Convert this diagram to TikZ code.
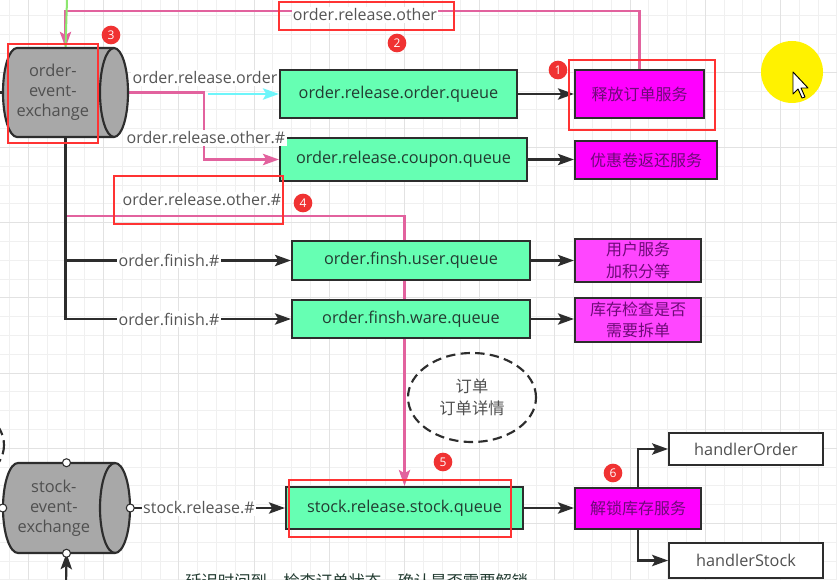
\documentclass[tikz,border=0pt]{standalone}
\usepackage{fontspec}
\setmainfont{Open Sans}
\newfontfamily\cjk{Noto Sans CJK SC}
\usetikzlibrary{shapes.geometric,arrows.meta}
\definecolor{linegray}{RGB}{45,45,45}
\definecolor{queuegreen}{RGB}{102,255,179}
\definecolor{queuetext}{RGB}{35,60,50}
\definecolor{servmagenta}{RGB}{255,0,255}
\definecolor{servlight}{RGB}{255,70,255}
\definecolor{servtext}{RGB}{110,10,120}
\definecolor{exgray}{RGB}{168,168,168}
\definecolor{extext}{RGB}{80,80,80}
\definecolor{labelgray}{RGB}{85,85,85}
\definecolor{pinkline}{RGB}{226,98,158}
\definecolor{cyanline}{RGB}{110,245,250}
\definecolor{greenline}{RGB}{140,230,110}
\definecolor{hilite}{RGB}{255,51,51}
\definecolor{badgered}{RGB}{240,50,50}
\definecolor{gridminor}{RGB}{240,240,240}
\definecolor{gridmajor}{RGB}{226,226,226}
\pgfdeclarelayer{gridlayer}
\pgfdeclarelayer{edges}
\pgfsetlayers{gridlayer,edges,main}
\begin{document}
\begin{tikzpicture}[x=0.75pt,y=0.75pt,yscale=-1,xscale=1,
	queue/.style={draw=linegray,line width=1.6pt,fill=queuegreen,text=queuetext,inner sep=0pt,font=\fontsize{12.2}{14}\selectfont},
	service/.style={draw=linegray,line width=1.6pt,fill=servmagenta,text=servtext,inner sep=0pt,align=center,font=\cjk\fontsize{12}{16}\selectfont},
	handler/.style={draw=linegray,line width=1.4pt,fill=white,text=extext,inner sep=0pt,minimum width=115.5pt,font=\fontsize{12.2}{14}\selectfont},
	exchange/.style={inner sep=0pt},
	exshape/.style={draw=linegray,line width=1.6pt,fill=exgray},
	exlabel/.style={text=extext,align=center,xshift=-9.5pt,font=\fontsize{12.3}{15}\selectfont},
	edgelabel/.style={fill=white,text=labelgray,inner sep=1pt,font=\fontsize{12}{14}\selectfont},
	flow/.style={draw=linegray,line width=1.6pt,-{Stealth[length=12pt,width=8.5pt,inset=2.5pt]}},
	pinkflow/.style={draw=pinkline,line width=1.6pt,-{Stealth[length=12pt,width=8.5pt,inset=2.5pt]}},
	cyanflow/.style={draw=cyanline,line width=1.6pt,-{Stealth[length=12pt,width=8.5pt,inset=2.5pt]}},
	hibox/.style={draw=hilite,line width=1.8pt},
	badge/.style={circle,fill=badgered,text=white,inner sep=0pt,minimum size=14pt,font=\fontsize{9}{9}\selectfont},
	handle/.style={draw=linegray,line width=0.8pt,fill=white}]
	\useasboundingbox (0,0) rectangle (837,580);
	
	%Grid
	\begin{pgfonlayer}{gridlayer}
		\fill[white] (0,0) rectangle (837,580);
		\foreach \gx in {9.6,28.4,...,837} \draw[gridminor,line width=0.6pt] (\gx,0) -- (\gx,580);
		\foreach \gy in {15.8,34.6,...,580} \draw[gridminor,line width=0.6pt] (0,\gy) -- (837,\gy);
		\foreach \gx in {28.4,103.6,...,837} \draw[gridmajor,line width=0.7pt] (\gx,0) -- (\gx,580);
		\foreach \gy in {72.2,147.4,...,580} \draw[gridmajor,line width=0.7pt] (0,\gy) -- (837,\gy);
	\end{pgfonlayer}
	
	%Shape: Cylinder
	\draw[exshape] (114,48) arc (-90:90:14 and 44.5) -- (17,137) arc (90:270:14 and 44.5) -- cycle;
	\draw[exshape,fill=none] (114,48) arc (-90:-270:14 and 44.5);
	\node[exchange,minimum width=93.75pt,minimum height=66.75pt,label={[exlabel]center:order-\\event-\\exchange}] (oex) at (65.5,92.5) {};
	%Shape: Cylinder
	\draw[exshape] (115,463) arc (-90:90:15 and 45) -- (18,553) arc (90:270:15 and 45) -- cycle;
	\draw[exshape,fill=none] (115,463) arc (-90:-270:15 and 45);
	\node[exchange,minimum width=95.25pt,minimum height=67.5pt,label={[exlabel]center:stock-\\event-\\exchange}] (sex) at (66.5,508) {};
	\foreach \a in {north,south,west,east} \draw[handle] (sex.\a) circle (4);
	
	%Shape: Rectangle
	\node[queue,minimum width=177.75pt,minimum height=36pt] (q1) at (398.5,94) {order.release.order.queue};
	\node[queue,minimum width=185.25pt,minimum height=32.25pt] (q2) at (403.5,159.5) {order.release.coupon.queue};
	\node[queue,minimum width=178.5pt,minimum height=29.25pt] (q3) at (411,260.5) {order.finsh.user.queue};
	\node[queue,minimum width=178.5pt,minimum height=28.5pt] (q4) at (411,319) {order.finsh.ware.queue};
	\node[queue,minimum width=177.75pt,minimum height=31.5pt] (q5) at (404.5,508) {stock.release.stock.queue};
	
	\node[service,minimum width=96.75pt,minimum height=36pt] (s1) at (639.5,94) {释放订单服务};
	\node[service,minimum width=106.5pt,minimum height=28.5pt] (s2) at (646,160) {优惠卷返还服务};
	\node[service,fill=servlight,minimum width=94.5pt,minimum height=32.25pt] (s3) at (638,260.5) {用户服务\\加积分等};
	\node[service,fill=servlight,minimum width=94.5pt,minimum height=33pt] (s4) at (638,320) {库存检查是否\\需要拆单};
	\node[service,minimum width=94.5pt,minimum height=30.75pt] (s5) at (638,508.5) {解锁库存服务};
	
	\node[handler,minimum height=24pt] (h1) at (746,449) {handlerOrder};
	\node[handler,minimum height=26.25pt] (h2) at (746,560.5) {handlerStock};
	
	%Shape: Ellipse
	\node[ellipse,draw=linegray,line width=1.6pt,dash pattern=on 7pt off 4pt,minimum width=96pt,minimum height=66.75pt,align=center,text=extext,font=\cjk\fontsize{12.2}{16}\selectfont] (detail) at (472,397.5) {订单\\订单详情};
	\draw[linegray,line width=1.6pt,dash pattern=on 7pt off 4pt] (-60,445) ellipse (64 and 44);
	
	%Free ends
	\coordinate (intop) at (67,0);
	\coordinate (inbottom) at (66,590);
	\coordinate (leftstub) at (-5,92.5);
	\coordinate (cyanstart) at (208,94);
	\coordinate (tap) at (67,216);
	
	%Straight Lines
	\begin{pgfonlayer}{edges}
		\draw[pinkflow] (s1.north) -- ++(0,-58) -| (oex.north);
		\draw[greenline,line width=1.5pt] (intop) -- (oex.north);
		\draw[pinkflow] (oex.east) -- ++(76,0) |- (q2.west);
		\draw[cyanflow] (cyanstart) -- (q1.west);
		\draw[pinkflow] (tap) -| (q5.north);
		\draw[flow] (oex.south) |- (q4.west);
		\draw[flow] (oex.south |- q3.west) -- (q3.west);
		\draw[linegray,line width=1.6pt] (oex.west) -- (leftstub);
		\draw[flow] (q1.east) -- (s1.west);
		\draw[flow] (q2.east) -- (q2.east -| s2.west);
		\draw[flow] (q3.east) -- (s3.west);
		\draw[flow] (q4.east) -- (q4.east -| s4.west);
		\draw[flow] (q5.east) -- (q5.east -| s5.west);
		\draw[flow] (s5.north) |- (h1.west);
		\draw[flow] (s5.south) |- (h2.west);
		\draw[flow] (sex.east) -- (q5.west);
		\draw[flow] (inbottom) -- (sex.south);
	\end{pgfonlayer}
	
	% Text Node
	\node[edgelabel] (relother) at (365,15) {order.release.other};
	\node[edgelabel] (relorder) at (205,78) {order.release.order};
	\node[edgelabel] (relotherA) at (206,138) {order.release.other.\#};
	\node[edgelabel] (relotherB) at (202,200) {order.release.other.\#};
	\node[edgelabel] (finuser) at (169,260.5) {order.finish.\#};
	\node[edgelabel] (finware) at (169,319) {order.finish.\#};
	\node[edgelabel] (stockrel) at (199,508) {stock.release.\#};
	\node[anchor=base west,inner sep=0pt,text=queuetext,font=\cjk\fontsize{12.25}{14}\selectfont] (delaynote) at (185,587) {延迟时间到，检查订单状态，确认是否需要解锁};
	
	%Highlight boxes
	\draw[hibox] (279,2) rectangle (454,30);
	\draw[hibox] (8,44) rectangle (98,143);
	\draw[hibox] (569,60) rectangle (715,130);
	\draw[hibox] (114,176) rectangle (283,224);
	\draw[hibox] (289,480) rectangle (511,537);
	\node[badge] (b1) at (558,70) {1};
	\node[badge] (b2) at (397,43) {2};
	\node[badge] (b3) at (111,35) {3};
	\node[badge] (b4) at (303,203) {4};
	\node[badge] (b5) at (443,462) {5};
	\node[badge] (b6) at (613,473) {6};
	
	%Pointer
	\fill[yellow] (792,72) circle (31);
	\draw[black,line width=0.7pt,fill=white,line join=round] (793,72) -- (793,94) -- (798,89) -- (802,98) -- (805,97) -- (801,88) -- (808,88) -- cycle;
\end{tikzpicture}
\end{document}
